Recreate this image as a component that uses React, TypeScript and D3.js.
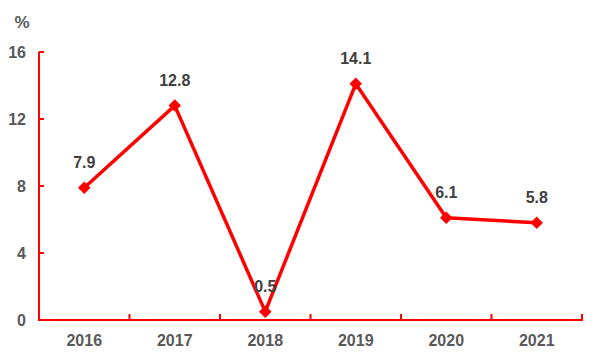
import React from "react";
import * as d3 from "d3";

const categories = ["2016", "2017", "2018", "2019", "2020", "2021"];
const values = [7.9, 12.8, 0.5, 14.1, 6.1, 5.8];
const yTicks = [0, 4, 8, 12, 16];

export default function App() {
  const W = 600, H = 360;
  const left = 39, right = 582, top = 52, bottom = 320;
  const x = d3.scaleBand<string>().domain(categories).range([left, right]);
  const y = d3.scaleLinear().domain([0, 16]).range([bottom, top]);
  const line = d3.line<number>()
    .x((_, i) => x(categories[i])! + x.bandwidth() / 2)
    .y((d) => y(d));
  const red = "#ff0000";
  const txt = "#595959";
  const font = "'Liberation Sans', Arial, sans-serif";
  const boundaries = categories.map((c) => x(c)!).concat([right]);
  const diamond = d3.symbol().type(d3.symbolDiamond2 ?? d3.symbolDiamond).size(100)();
  return (
    <svg width={W} height={H} style={{ position: "absolute", left: 0, top: 0 }}>
      <rect width={W} height={H} fill="#fff" />
      <g fontFamily={font} fontWeight="bold">
        <text x={22} y={28} fontSize={17} fill={txt} textAnchor="middle">%</text>
        {yTicks.map((t) => (
          <g key={t}>
            <line x1={left} x2={left + 5} y1={y(t)} y2={y(t)} stroke={red} strokeWidth={2} />
            <text x={26} y={y(t) + 5.5} fontSize={16} fill={txt} textAnchor="end">{t}</text>
          </g>
        ))}
        {boundaries.map((b, i) => (
          <line key={i} x1={b} x2={b} y1={bottom} y2={bottom - 6} stroke={red} strokeWidth={2} />
        ))}
        <line x1={left} x2={left} y1={top} y2={bottom + 1} stroke={red} strokeWidth={2} />
        <line x1={left - 1} x2={right + 1} y1={bottom} y2={bottom} stroke={red} strokeWidth={2} />
        {categories.map((c) => (
          <text key={c} x={x(c)! + x.bandwidth() / 2} y={346} fontSize={16} fill={txt} textAnchor="middle">{c}</text>
        ))}
        <path d={line(values) || ""} fill="none" stroke={red} strokeWidth={3.5} strokeLinejoin="round" />
        {values.map((v, i) => {
          const cx = x(categories[i])! + x.bandwidth() / 2;
          return (
            <g key={i}>
              <path d={diamond || ""} transform={`translate(${cx},${y(v)})`} fill={red} />
              <text x={cx} y={y(v) - 20} fontSize={16} fill="#404040" textAnchor="middle">{v.toFixed(1)}</text>
            </g>
          );
        })}
      </g>
    </svg>
  );
}
